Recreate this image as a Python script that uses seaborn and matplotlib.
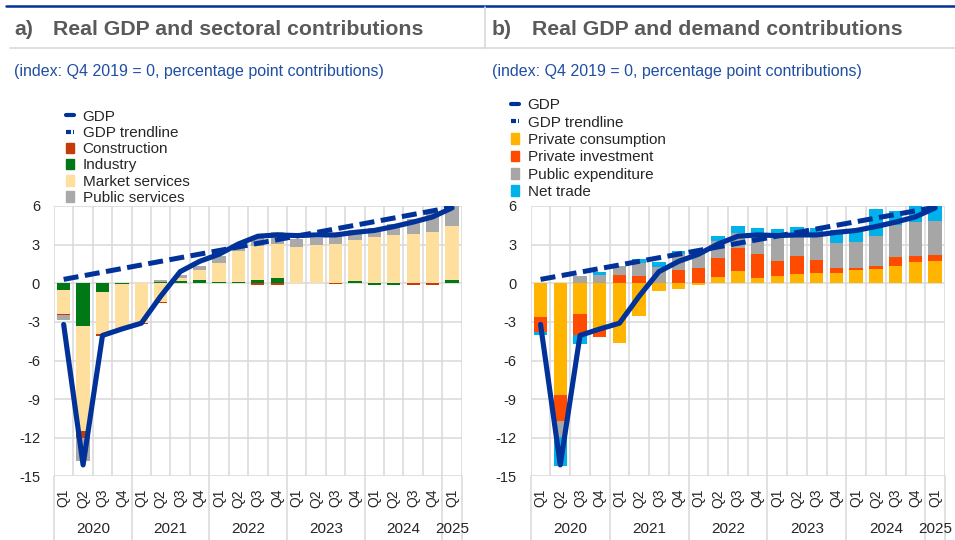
import numpy as np
import matplotlib
matplotlib.use("Agg")
import matplotlib.pyplot as plt
import matplotlib.transforms as mtransforms
from matplotlib.lines import Line2D
from matplotlib.patches import Patch
import seaborn as sns

# quarters 2020 Q1 .. 2025 Q1
quarters = ["Q1", "Q2", "Q3", "Q4"] * 5 + ["Q1"]
years = ["2020"] * 4 + ["2021"] * 4 + ["2022"] * 4 + ["2023"] * 4 + ["2024"] * 4 + ["2025"]

gdp = [-3.2, -14.1, -4.05, -3.55, -3.1, -1.0, 0.9, 1.7, 2.25, 3.05, 3.65,
       3.75, 3.7, 3.75, 3.75, 3.95, 4.1, 4.4, 4.75, 5.15, 5.85]
trend_at = ["2020 Q1", "2025 Q1"]
trend = [0.3, 5.9]

# panel a: sectoral contributions
industry = [-0.49, -3.3, -0.67, -0.08, 0.05, 0.12, 0.17, 0.22, 0.06, 0.12, 0.26,
            0.38, 0.05, 0.05, 0.02, 0.18, -0.15, -0.1, 0.0, 0.0, 0.28]
market = [-1.92, -8.13, -3.26, -3.45, -3.05, -1.45, 0.2, 0.78, 1.55, 2.4, 2.6,
          2.7, 2.8, 2.9, 3.05, 3.15, 3.56, 3.75, 3.82, 3.95, 4.15]
construction = [-0.08, -0.62, -0.15, -0.05, -0.13, -0.1, 0.0, 0.0, 0.0, 0.0, -0.1,
                -0.1, 0.0, 0.0, -0.03, 0.0, 0.0, -0.05, -0.15, -0.1, 0.0]
public_serv = [-0.36, -1.71, 0.0, 0.0, 0.0, 0.15, 0.25, 0.32, 0.52, 0.45, 0.7,
               0.9, 0.6, 0.56, 0.6, 0.82, 0.75, 0.85, 1.15, 1.5, 1.55]

# panel b: demand contributions
consumption = [-2.6, -8.7, -2.4, -3.46, -4.6, -2.57, -0.58, -0.45, -0.13, 0.52, 0.96,
               0.39, 0.6, 0.72, 0.78, 0.8, 1.03, 1.11, 1.34, 1.65, 1.73]
investment = [-1.15, -2.0, -1.6, -0.7, 0.65, 0.55, 0.0, 1.0, 1.16, 1.45, 1.76,
              1.89, 1.16, 1.42, 1.0, 0.36, 0.13, 0.23, 0.72, 0.47, 0.44]
public_exp = [0.0, -1.2, 0.55, 0.62, 0.7, 1.04, 1.27, 1.26, 1.25, 1.33, 1.16,
              1.52, 2.0, 1.78, 2.1, 1.94, 2.07, 2.33, 2.45, 2.66, 2.69]
net_trade = [-0.25, -2.3, -0.75, 0.26, 0.0, 0.26, 0.38, 0.28, 0.2, 0.4, 0.57,
             0.52, 0.47, 0.41, 0.44, 1.03, 0.85, 2.07, 1.11, 1.21, 1.14]

BLUE = "#003299"
GRID = "#d9d9d9"
TITLE = "#5a5a5a"
SUB = "#1f4ea3"

sns.set_style("white")
plt.rcParams["font.family"] = ["Liberation Sans", "DejaVu Sans"]
plt.rcParams["axes.unicode_minus"] = False

periods = [f"{y} {q}" for y, q in zip(years, quarters)]
x = np.arange(len(periods))
trend_x = [periods.index(p) for p in trend_at]


def stacked(ax, series, colors):
    pos = np.zeros(len(x))
    neg = np.zeros(len(x))
    for vals, c in zip(series, colors):
        v = np.array(vals, dtype=float)
        ax.bar(x, v, bottom=np.where(v >= 0, pos, neg), width=0.68,
               color=c, linewidth=0, zorder=2)
        pos += np.clip(v, 0, None)
        neg += np.clip(v, None, 0)


def lines(ax):
    sns.lineplot(x=trend_x, y=trend, ax=ax, color=BLUE, lw=3.6, zorder=4,
                 linestyle=(0, (3.0, 1.3)))
    sns.lineplot(x=x, y=gdp, ax=ax, color=BLUE, lw=3.7, zorder=5,
                 solid_capstyle="round", solid_joinstyle="round")


def style(ax):
    ax.set_xlim(-0.5, len(x) - 0.5)
    ax.set_ylim(-15, 6)
    ax.set_yticks(range(-15, 7, 3))
    ax.set_xticks(x)
    ax.set_xticklabels(quarters, rotation=90, fontsize=10)
    ax.set_xticks(np.arange(-0.5, len(x), 1), minor=True)
    ax.grid(axis="x", which="minor", color=GRID, lw=1.1)
    ax.grid(axis="y", which="major", color=GRID, lw=1.1)
    ax.grid(axis="x", which="major", visible=False)
    ax.tick_params(axis="both", which="both", length=0)
    ax.tick_params(axis="y", labelsize=10.5, pad=10)
    ax.tick_params(axis="x", pad=9)
    for s in ax.spines.values():
        s.set_visible(False)
    ax.set_axisbelow(True)
    ax.set_xlabel("")
    ax.set_ylabel("")
    tr = mtransforms.blended_transform_factory(ax.transData, ax.transAxes)
    uniq = list(dict.fromkeys(years))
    bounds = [-0.5]
    for yr in uniq:
        idx = [i for i, y in enumerate(years) if y == yr]
        ax.text(np.mean(idx), -0.194, yr, transform=tr, ha="center",
                va="center", fontsize=11)
        bounds.append(idx[-1] + 0.5)
    for b in bounds:
        ax.plot([b, b], [0, -0.24], transform=tr, color=GRID, lw=1.1,
                clip_on=False, zorder=0)


fig = plt.figure(figsize=(9.55, 5.4), dpi=100)
ax_a = fig.add_axes([0.0565, 0.1176, 0.427, 0.501])
ax_b = fig.add_axes([0.5557, 0.1176, 0.4338, 0.501])

colors_a = ["#007816", "#ffdf9e", "#c43c0c", "#a9a9a9"]
stacked(ax_a, [industry, market, construction, public_serv], colors_a)
lines(ax_a)
style(ax_a)

colors_b = ["#ffb400", "#ff4b00", "#a6a6a6", "#00b1ea"]
stacked(ax_b, [consumption, investment, public_exp, net_trade], colors_b)
lines(ax_b)
style(ax_b)

# legends
gdp_h = Line2D([], [], color=BLUE, lw=3)
trend_h = Line2D([], [], color=BLUE, lw=3, linestyle=(0, (1.2, 0.5)))
leg_a = [gdp_h, trend_h] + [Patch(color=c) for c in
                            ["#c43c0c", "#007816", "#ffdf9e", "#a9a9a9"]]
lab_a = ["GDP", "GDP trendline", "Construction", "Industry",
         "Market services", "Public services"]
fig.legend(leg_a, lab_a, loc="upper left", bbox_to_anchor=(0.069, 0.797),
           frameon=False, fontsize=11, handlelength=0.5, handleheight=0.7,
           handletextpad=0.6, labelspacing=0.15, borderpad=0, borderaxespad=0)
leg_b = [gdp_h, trend_h] + [Patch(color=c) for c in colors_b]
lab_b = ["GDP", "GDP trendline", "Private consumption", "Private investment",
         "Public expenditure", "Net trade"]
fig.legend(leg_b, lab_b, loc="upper left", bbox_to_anchor=(0.535, 0.818),
           frameon=False, fontsize=11, handlelength=0.5, handleheight=0.7,
           handletextpad=0.6, labelspacing=0.22, borderpad=0, borderaxespad=0)

# titles and frame lines
fig.add_artist(Line2D([0.006, 1], [0.989, 0.989], transform=fig.transFigure,
                      color=BLUE, lw=1.8))
fig.add_artist(Line2D([0.0105, 1], [0.911, 0.911], transform=fig.transFigure,
                      color=GRID, lw=1.2))
fig.add_artist(Line2D([0.508, 0.508], [0.911, 0.987], transform=fig.transFigure,
                      color=GRID, lw=1.2))
fig.text(0.0147, 0.946, "a)", fontsize=15.3, fontweight="bold", color=TITLE,
         va="center")
fig.text(0.0555, 0.946, "Real GDP and sectoral contributions", fontsize=15.3,
         fontweight="bold", color=TITLE, va="center")
fig.text(0.515, 0.946, "b)", fontsize=15.3, fontweight="bold", color=TITLE,
         va="center")
fig.text(0.557, 0.946, "Real GDP and demand contributions", fontsize=15.3,
         fontweight="bold", color=TITLE, va="center")
sub = "(index: Q4 2019 = 0, percentage point contributions)"
fig.text(0.0147, 0.8685, sub, fontsize=11.5, color=SUB, va="center")
fig.text(0.515, 0.8685, sub, fontsize=11.5, color=SUB, va="center")

fig.savefig("out.png", dpi=100, facecolor="white")
